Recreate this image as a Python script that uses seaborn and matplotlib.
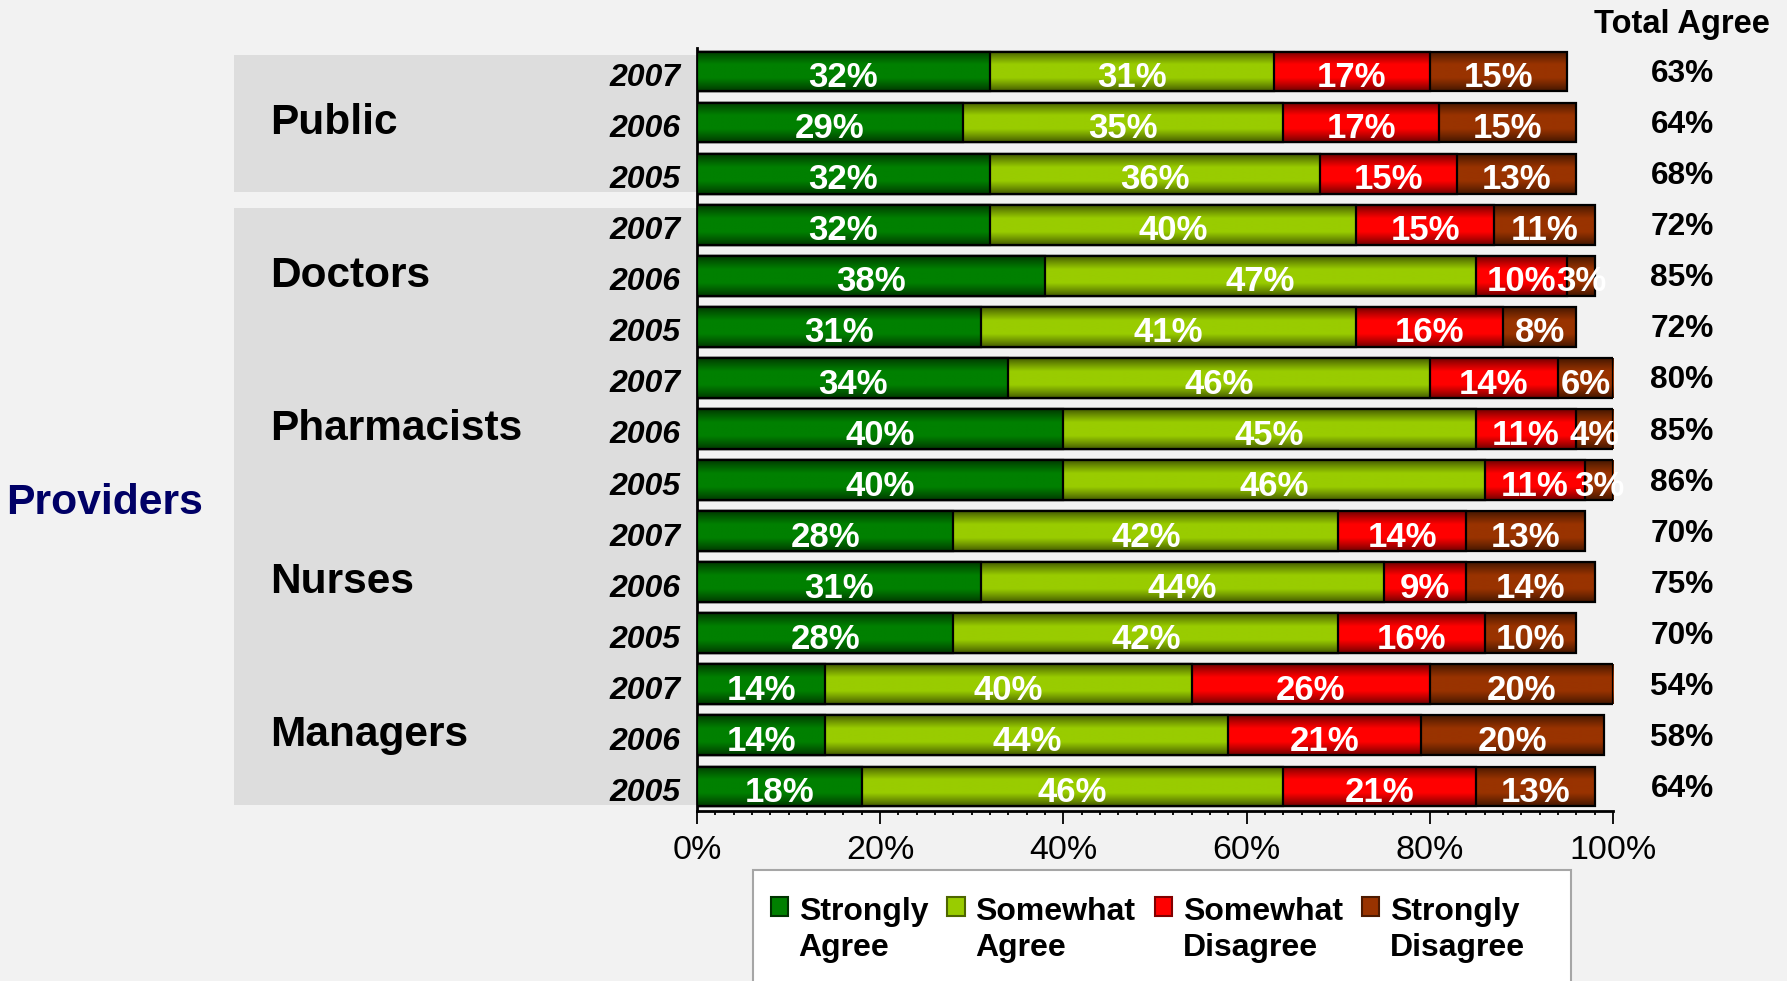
import numpy as np
import pandas as pd
import matplotlib
matplotlib.use("Agg")
import matplotlib.pyplot as plt
import matplotlib.colors as mcolors
import matplotlib.transforms as mtransforms
from matplotlib.patches import Rectangle, Patch
import seaborn as sns

# ---- data -----------------------------------------------------------------
groups = ["Public", "Doctors", "Pharmacists", "Nurses", "Managers"]
years = ["2007", "2006", "2005"]
responses = ["Strongly\nAgree", "Somewhat\nAgree", "Somewhat\nDisagree", "Strongly\nDisagree"]
strongly_agree = [32, 29, 32, 32, 38, 31, 34, 40, 40, 28, 31, 28, 14, 14, 18]
somewhat_agree = [31, 35, 36, 40, 47, 41, 46, 45, 46, 42, 44, 42, 40, 44, 46]
somewhat_disagree = [17, 17, 15, 15, 10, 16, 14, 11, 11, 14, 9, 16, 26, 21, 21]
strongly_disagree = [15, 15, 13, 11, 3, 8, 6, 4, 3, 13, 14, 10, 20, 20, 13]
colors = ["#008000", "#99CC00", "#FF0000", "#993300"]

# ---- style ----------------------------------------------------------------
sns.set_style("white")
plt.rcParams["font.family"] = ["Liberation Sans", "DejaVu Sans"]
plt.rcParams["text.color"] = "black"
BG = "#f2f2f2"
PANEL = "#dddddd"

rows = [f"{g} {y}" for g in groups for y in years]
series = np.array([strongly_agree, somewhat_agree, somewhat_disagree, strongly_disagree])
cum = np.cumsum(series, axis=0)
total_agree = series[0] + series[1]

df = pd.DataFrame({"row": rows})
for k in range(4):
    df[f"cum{k}"] = cum[k]

fig = plt.figure(figsize=(17.87, 9.81), dpi=100, facecolor=BG)
ax = fig.add_axes([0.390, 0.1728, 0.5126, 0.778])
ax.set_facecolor("none")


def shade(color, n=96):
    rgb = np.array(mcolors.to_rgb(color))
    t = np.linspace(0, 1, n)
    d = np.minimum(t, 1 - t) / 0.33
    f = 0.42 + 0.58 * np.clip(d, 0, 1) ** 0.85
    return (rgb[None, :] * f[:, None])[:, None, :]


# stacked bars: draw cumulative totals back to front, each with a glossy fill
for layer, k in enumerate(range(3, -1, -1)):
    n_before = len(ax.patches)
    sns.barplot(data=df, x=f"cum{k}", y="row", order=rows, orient="h",
                color=colors[k], saturation=1, width=0.78, errorbar=None,
                edgecolor="black", linewidth=1.6, ax=ax)
    img = shade(colors[k])
    for p in ax.patches[n_before:]:
        x0, y0 = p.get_x(), p.get_y()
        w, h = p.get_width(), p.get_height()
        ax.imshow(img, extent=(x0, x0 + w, y0 + h, y0), aspect="auto",
                  interpolation="bilinear", zorder=1 + 2 * layer)
        p.set_facecolor("none")
        p.set_zorder(1.5 + 2 * layer)

# value labels inside segments
for k in range(4):
    for i, v in enumerate(series[k]):
        ax.text(cum[k][i] - v / 2, i + 0.12, f"{v}%", ha="center", va="center",
                color="white", fontsize=25, fontweight="bold", zorder=30)

ax.set_xlim(0, 100)
ax.set_ylim(14.49, -0.455)
ax.set_xlabel("")
ax.set_ylabel("")

ax.set_xticks(np.arange(0, 101, 20))
ax.set_xticklabels([f"{t}%" for t in range(0, 101, 20)])
ax.set_xticks(np.arange(0, 101, 2), minor=True)
ax.tick_params(axis="x", which="major", direction="out", length=9, width=1.3,
               labelsize=24.5, pad=8, colors="black", bottom=True)
ax.tick_params(axis="x", which="minor", direction="out", length=3.2, width=1.3,
               bottom=True, colors="black")

ax.set_yticks(range(len(rows)))
ax.set_yticklabels(years * len(groups), fontstyle="italic", fontweight="bold",
                   fontsize=23, color="black")
ax.tick_params(axis="y", length=0, pad=12, labelcolor="black")
shift_down = mtransforms.ScaledTranslation(0, -3 / 100, fig.dpi_scale_trans)
for lab in ax.get_yticklabels():
    lab.set_transform(lab.get_transform() + shift_down)

for side in ["top", "right"]:
    ax.spines[side].set_visible(False)
for side in ["left", "bottom"]:
    ax.spines[side].set_visible(True)
    ax.spines[side].set_color("black")
    ax.spines[side].set_linewidth(2)

# grey panels behind the group names
blend = mtransforms.blended_transform_factory(fig.transFigure, ax.transData)
panel_left, panel_right = 234 / 1787, 0.390
for first, last in [(0, 2), (3, 14)]:
    fig.add_artist(Rectangle((panel_left, first - 0.33), panel_right - panel_left,
                             (last + 0.36) - (first - 0.33), transform=blend,
                             facecolor=PANEL, edgecolor="none", zorder=-1))

for gi, g in enumerate(groups):
    ax.text(270 / 1787, gi * 3 + 1, g, transform=blend, ha="left", va="center",
            fontsize=30.5, fontweight="bold", color="black")

# total agree column
for i, t in enumerate(total_agree):
    ax.text(0.9413, i + 0.05, f"{t}%", transform=blend, ha="center", va="center",
            fontsize=22.8, fontweight="bold", color="black")
fig.text(0.9413, 1 - 25 / 981, "Total Agree", ha="center", va="center",
         fontsize=23.5, fontweight="bold", color="black")

fig.text(105 / 1787, 1 - 503 / 981, "Providers", ha="center", va="center",
         fontsize=30.8, fontweight="bold", color="#000066")

# legend: white box running off the bottom edge, entries laid out inside it
box_left, box_top = 753 / 1787, 1 - 870 / 981
fig.add_artist(Rectangle((box_left, -0.02), 818 / 1787, box_top + 0.02,
                         transform=fig.transFigure, facecolor="white",
                         edgecolor="#a6a6a6", linewidth=1.5, zorder=4))
darker = ["#003300", "#4d6600", "#800000", "#4d1a00"]
handles = [Patch(facecolor=c, edgecolor=d, linewidth=1.5) for c, d in zip(colors, darker)]
leg = fig.legend(handles, responses, ncol=4, loc="upper left",
                 bbox_to_anchor=(box_left, box_top), borderaxespad=0,
                 frameon=False, handlelength=0.55, handleheight=0.55,
                 handletextpad=0.33, columnspacing=0.6, borderpad=0.55,
                 labelspacing=0.26, title=" ", title_fontsize=1,
                 labelcolor="black", prop={"weight": "bold", "size": 23})
leg.set_zorder(5)
for txt in leg.get_texts():
    txt.set_linespacing(1.28)
for col in leg._legend_handle_box.get_children():
    for item in col.get_children():
        item.align = "top"

fig.savefig("out.png", dpi=100, facecolor=BG)
